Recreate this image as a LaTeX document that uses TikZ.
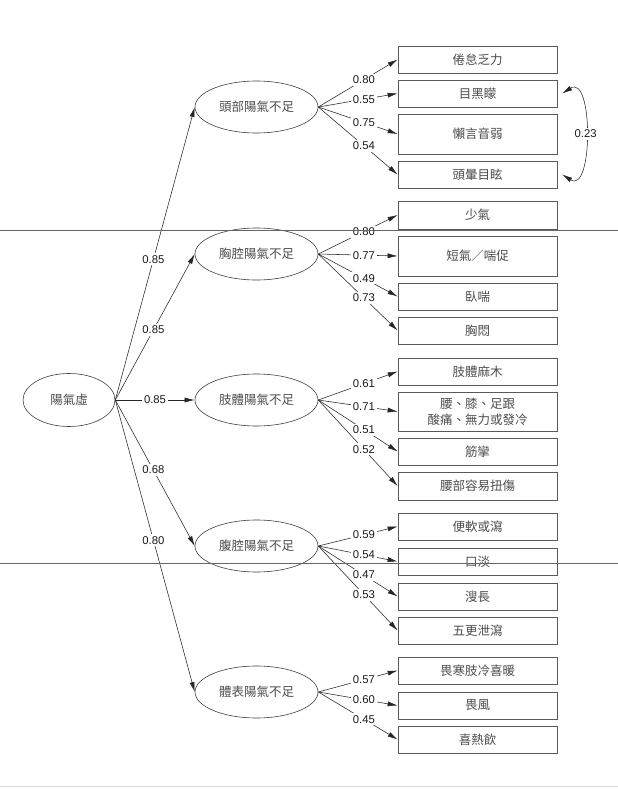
\documentclass[tikz,border=0pt]{standalone}
\usepackage{fontspec}
\setmainfont{Liberation Sans}
\newfontfamily\cjk{Noto Sans CJK TC}
\usetikzlibrary{arrows.meta,shapes.geometric}
\begin{document}
\begin{tikzpicture}[x=1pt,y=-1pt,
 latent/.style={ellipse,draw=black!75,line width=0.6pt,minimum width=123pt,minimum height=52pt,inner sep=0pt,font=\cjk\fontsize{12.5}{15}\selectfont,text=black!70},
 obs/.style={rectangle,draw=black!65,fill=white,line width=0.7pt,minimum width=159pt,minimum height=27pt,inner sep=0pt,font=\cjk\fontsize{12.5}{16}\selectfont,text=black!70,align=center},
 tall/.style={minimum height=40pt},
 ld/.style={-{Latex[length=10pt,width=5pt]},line width=0.55pt,black!85},
 coef/.style={fill=white,inner sep=2pt,font=\fontsize{11.3}{13}\selectfont,text=black!90},
 scanline/.style={line width=0.8pt,black!60}]
\fill[white] (0,0) rectangle (618,790);
\useasboundingbox (0,0) rectangle (618,790);

% latent variables
\node[latent,minimum width=92pt,minimum height=53pt] (Y) at (69,400) {陽氣虛};
\node[latent] (H) at (256.5,107) {頭部陽氣不足};
\node[latent] (C) at (256.5,254) {胸腔陽氣不足};
\node[latent] (L) at (256.5,400) {肢體陽氣不足};
\node[latent] (A) at (256.5,546) {腹腔陽氣不足};
\node[latent] (B) at (256.5,692) {體表陽氣不足};

% observed variables
\node[obs] (h1) at (477.5,59.5) {倦怠乏力};
\node[obs] (h2) at (477.5,93.5) {目黑矇};
\node[obs,tall] (h3) at (477.5,134) {懶言音弱};
\node[obs] (h4) at (477.5,174.5) {頭暈目眩};

\node[obs,minimum height=28pt] (c1) at (477.5,215) {少氣};
\node[obs,tall] (c2) at (477.5,256) {短氣／喘促};
\node[obs] (c3) at (477.5,296.5) {臥喘};
\node[obs] (c4) at (477.5,330.5) {胸悶};

\node[obs] (l1) at (477.5,371.5) {肢體麻木};
\node[obs,minimum height=39pt] (l2) at (477.5,411.5) {腰、膝、足跟\\酸痛、無力或發冷};
\node[obs] (l3) at (477.5,451.5) {筋攣};
\node[obs,minimum height=28pt] (l4) at (477.5,486) {腰部容易扭傷};

\node[obs] (a1) at (477.5,526.5) {便軟或瀉};
\node[obs] (a2) at (477.5,561.5) {口淡};
\node[obs] (a3) at (477.5,596.5) {溲長};
\node[obs] (a4) at (477.5,630.5) {五更泄瀉};

\node[obs] (b1) at (477.5,670.5) {畏寒肢冷喜暖};
\node[obs] (b2) at (477.5,705.5) {畏風};
\node[obs] (b3) at (477.5,739.5) {喜熱飲};

% second-order loadings
\draw[ld] (Y.east) -- node[coef,pos=0.48] {0.85} (H.west);
\draw[ld] (Y.east) -- node[coef,pos=0.48] {0.85} (C.west);
\draw[ld] (Y.east) -- node[coef,pos=0.5] {0.85} (L.west);
\draw[ld] (Y.east) -- node[coef,pos=0.48] {0.68} (A.west);
\draw[ld] (Y.east) -- node[coef,pos=0.48] {0.80} (B.west);

% first-order loadings
\foreach \f/\t/\v in {H/h1/0.80,H/h2/0.55,H/h3/0.75,H/h4/0.54,
                      C/c1/0.80,C/c2/0.77,C/c3/0.49,C/c4/0.73,
                      L/l1/0.61,L/l2/0.71,L/l3/0.51,L/l4/0.52,
                      A/a1/0.59,A/a2/0.54,A/a3/0.47,A/a4/0.53,
                      B/b1/0.57,B/b2/0.60,B/b3/0.45}
  \draw[ld] (\f.east) -- node[coef,pos=0.575] {\v} (\t.west);

% error covariance
\coordinate (e2) at ([xshift=5pt]h2.east);
\coordinate (e4) at ([xshift=5pt]h4.east);
\draw[{Latex[length=10pt,width=5pt]}-{Latex[length=10pt,width=5pt]},line width=0.55pt,black!85]
  (e2) .. controls ([xshift=31pt,yshift=20pt]e2) and ([xshift=31pt,yshift=-20pt]e4) .. (e4)
  node[coef,pos=0.5] {0.23};

% scan lines
\draw[scanline] (0,230.5) -- (618,230.5);
\draw[scanline] (0,563.5) -- (618,563.5);
\draw[line width=0.8pt,black!15] (0,786) -- (618,786);
\end{tikzpicture}
\end{document}
